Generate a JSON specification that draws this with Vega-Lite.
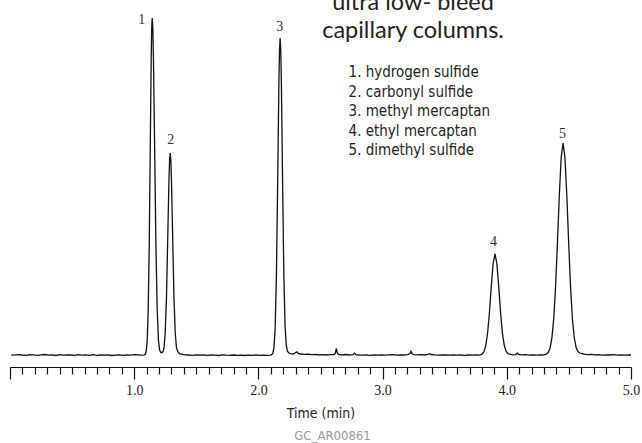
{
  "$schema": "https://vega.github.io/schema/vega-lite/v6.json",
  "width": 621,
  "height": 367,
  "autosize": {"type": "none"},
  "padding": {"left": 10, "top": 0, "right": 11, "bottom": 76},
  "background": "white",
  "config": {"view": {"stroke": null}},
  "title": {"text": "GC_AR00861", "orient": "bottom", "anchor": "middle", "dx": 12, "offset": 10, "font": "DejaVu Sans Condensed, Roboto Condensed, Roboto", "fontSize": 13, "fontWeight": "normal", "color": "#9a9a9a"},
  "datasets": {
    "signal": [
      {"t": 0.01, "s": 12.2}, {"t": 0.04, "s": 11.8}, {"t": 0.07, "s": 12.4}, {"t": 0.10, "s": 12.0}, {"t": 0.13, "s": 11.7},
      {"t": 0.16, "s": 12.3}, {"t": 0.19, "s": 12.1}, {"t": 0.22, "s": 11.6}, {"t": 0.25, "s": 12.2}, {"t": 0.28, "s": 12.5},
      {"t": 0.31, "s": 11.9}, {"t": 0.34, "s": 12.1}, {"t": 0.37, "s": 11.5}, {"t": 0.40, "s": 12.3}, {"t": 0.43, "s": 11.8},
      {"t": 0.46, "s": 12.2}, {"t": 0.49, "s": 12.0}, {"t": 0.52, "s": 11.6}, {"t": 0.55, "s": 12.4}, {"t": 0.58, "s": 11.9},
      {"t": 0.61, "s": 12.1}, {"t": 0.64, "s": 11.7}, {"t": 0.67, "s": 12.3}, {"t": 0.70, "s": 11.6}, {"t": 0.73, "s": 12.0},
      {"t": 0.76, "s": 11.8}, {"t": 0.79, "s": 12.2}, {"t": 0.82, "s": 11.5}, {"t": 0.85, "s": 11.9}, {"t": 0.88, "s": 12.1},
      {"t": 0.91, "s": 11.7}, {"t": 0.94, "s": 12.0}, {"t": 0.97, "s": 11.8}, {"t": 1.00, "s": 12.3}, {"t": 1.03, "s": 12.1},
      {"t": 1.06, "s": 11.9}, {"t": 1.08, "s": 12.2},
      {"t": 1.089, "s": 12.5}, {"t": 1.097, "s": 16}, {"t": 1.105, "s": 27}, {"t": 1.113, "s": 58}, {"t": 1.121, "s": 121},
      {"t": 1.129, "s": 216}, {"t": 1.137, "s": 309}, {"t": 1.141, "s": 339}, {"t": 1.145, "s": 349}, {"t": 1.150, "s": 339},
      {"t": 1.155, "s": 309}, {"t": 1.165, "s": 216}, {"t": 1.175, "s": 121}, {"t": 1.185, "s": 58}, {"t": 1.195, "s": 27},
      {"t": 1.205, "s": 17}, {"t": 1.215, "s": 14.5}, {"t": 1.225, "s": 14.5}, {"t": 1.233, "s": 15.5}, {"t": 1.24, "s": 19},
      {"t": 1.25, "s": 35}, {"t": 1.26, "s": 70}, {"t": 1.27, "s": 128}, {"t": 1.28, "s": 188}, {"t": 1.285, "s": 207},
      {"t": 1.29, "s": 214}, {"t": 1.295, "s": 207}, {"t": 1.30, "s": 188}, {"t": 1.31, "s": 128}, {"t": 1.32, "s": 70},
      {"t": 1.33, "s": 35}, {"t": 1.34, "s": 19.5}, {"t": 1.35, "s": 15.5}, {"t": 1.36, "s": 14}, {"t": 1.37, "s": 13.2},
      {"t": 1.39, "s": 12.6}, {"t": 1.41, "s": 12.2},
      {"t": 1.44, "s": 12.0}, {"t": 1.47, "s": 11.7}, {"t": 1.50, "s": 12.1}, {"t": 1.53, "s": 11.8}, {"t": 1.56, "s": 12.2},
      {"t": 1.59, "s": 11.6}, {"t": 1.62, "s": 12.0}, {"t": 1.65, "s": 11.9}, {"t": 1.68, "s": 11.5}, {"t": 1.71, "s": 12.1},
      {"t": 1.74, "s": 11.8}, {"t": 1.77, "s": 11.6}, {"t": 1.80, "s": 12.0}, {"t": 1.83, "s": 11.7}, {"t": 1.86, "s": 11.9},
      {"t": 1.89, "s": 11.5}, {"t": 1.92, "s": 11.8}, {"t": 1.95, "s": 11.6}, {"t": 1.98, "s": 12.0}, {"t": 2.01, "s": 11.7},
      {"t": 2.04, "s": 11.9}, {"t": 2.07, "s": 11.6}, {"t": 2.10, "s": 11.9},
      {"t": 2.115, "s": 13.2}, {"t": 2.125, "s": 19}, {"t": 2.135, "s": 39}, {"t": 2.145, "s": 91}, {"t": 2.155, "s": 183},
      {"t": 2.165, "s": 284}, {"t": 2.170, "s": 317}, {"t": 2.175, "s": 329}, {"t": 2.180, "s": 317}, {"t": 2.185, "s": 284},
      {"t": 2.195, "s": 183}, {"t": 2.205, "s": 91}, {"t": 2.215, "s": 40}, {"t": 2.225, "s": 21}, {"t": 2.235, "s": 15.5},
      {"t": 2.245, "s": 14}, {"t": 2.26, "s": 13.3}, {"t": 2.28, "s": 13}, {"t": 2.30, "s": 14.5}, {"t": 2.31, "s": 15.2},
      {"t": 2.32, "s": 13.6}, {"t": 2.34, "s": 13.0}, {"t": 2.37, "s": 12.6}, {"t": 2.40, "s": 12.8}, {"t": 2.43, "s": 12.3},
      {"t": 2.46, "s": 12.5}, {"t": 2.49, "s": 12.1}, {"t": 2.52, "s": 12.4}, {"t": 2.55, "s": 12.0}, {"t": 2.58, "s": 12.3},
      {"t": 2.61, "s": 12.5}, {"t": 2.62, "s": 14}, {"t": 2.627, "s": 18.5}, {"t": 2.635, "s": 14}, {"t": 2.645, "s": 12.6},
      {"t": 2.67, "s": 12.2}, {"t": 2.70, "s": 12.5}, {"t": 2.73, "s": 12.0}, {"t": 2.76, "s": 12.3}, {"t": 2.775, "s": 13.8},
      {"t": 2.785, "s": 12.4}, {"t": 2.81, "s": 12.0}, {"t": 2.84, "s": 11.8}, {"t": 2.87, "s": 12.1}, {"t": 2.90, "s": 11.7},
      {"t": 2.93, "s": 12.0}, {"t": 2.96, "s": 11.9}, {"t": 2.99, "s": 12.2}, {"t": 3.02, "s": 11.8}, {"t": 3.05, "s": 12.1},
      {"t": 3.08, "s": 12.3}, {"t": 3.11, "s": 11.9}, {"t": 3.14, "s": 12.2}, {"t": 3.17, "s": 12.0}, {"t": 3.20, "s": 12.3},
      {"t": 3.22, "s": 13.5}, {"t": 3.228, "s": 15.7}, {"t": 3.236, "s": 13.2}, {"t": 3.25, "s": 12.4}, {"t": 3.28, "s": 12.1},
      {"t": 3.31, "s": 12.3}, {"t": 3.34, "s": 12.0}, {"t": 3.37, "s": 12.8}, {"t": 3.38, "s": 13.3}, {"t": 3.39, "s": 12.5},
      {"t": 3.42, "s": 12.1}, {"t": 3.45, "s": 11.8}, {"t": 3.48, "s": 12.0}, {"t": 3.51, "s": 12.2}, {"t": 3.54, "s": 11.9},
      {"t": 3.57, "s": 12.1}, {"t": 3.60, "s": 11.8}, {"t": 3.63, "s": 12.0}, {"t": 3.66, "s": 11.7}, {"t": 3.69, "s": 12.0},
      {"t": 3.72, "s": 11.8}, {"t": 3.75, "s": 12.1}, {"t": 3.78, "s": 11.9},
      {"t": 3.80, "s": 12.9}, {"t": 3.815, "s": 15}, {"t": 3.83, "s": 20.9}, {"t": 3.845, "s": 33.3}, {"t": 3.86, "s": 54},
      {"t": 3.875, "s": 80.5}, {"t": 3.89, "s": 103.6}, {"t": 3.905, "s": 113}, {"t": 3.92, "s": 103.6}, {"t": 3.935, "s": 80.5},
      {"t": 3.95, "s": 54}, {"t": 3.965, "s": 33.3}, {"t": 3.98, "s": 21.5}, {"t": 3.995, "s": 15.5}, {"t": 4.01, "s": 13.3},
      {"t": 4.03, "s": 12.6}, {"t": 4.05, "s": 12.2}, {"t": 4.07, "s": 12.4}, {"t": 4.085, "s": 13.8}, {"t": 4.095, "s": 12.5},
      {"t": 4.12, "s": 12.1}, {"t": 4.15, "s": 12.3}, {"t": 4.18, "s": 11.9}, {"t": 4.21, "s": 12.1}, {"t": 4.24, "s": 11.8},
      {"t": 4.27, "s": 12.0}, {"t": 4.30, "s": 12.2},
      {"t": 4.318, "s": 12.8}, {"t": 4.333, "s": 14.4}, {"t": 4.348, "s": 18.8}, {"t": 4.363, "s": 28.9}, {"t": 4.378, "s": 48.5},
      {"t": 4.393, "s": 80.9}, {"t": 4.408, "s": 124.6}, {"t": 4.423, "s": 172}, {"t": 4.438, "s": 209.6}, {"t": 4.453, "s": 224},
      {"t": 4.468, "s": 209.6}, {"t": 4.483, "s": 172}, {"t": 4.498, "s": 124.6}, {"t": 4.513, "s": 80.9}, {"t": 4.528, "s": 48.5},
      {"t": 4.543, "s": 29.5}, {"t": 4.558, "s": 19.5}, {"t": 4.573, "s": 15.5}, {"t": 4.588, "s": 14}, {"t": 4.60, "s": 13.5},
      {"t": 4.62, "s": 12.8}, {"t": 4.65, "s": 12.4}, {"t": 4.68, "s": 12.6}, {"t": 4.71, "s": 12.1}, {"t": 4.74, "s": 12.3},
      {"t": 4.77, "s": 11.9}, {"t": 4.80, "s": 12.2}, {"t": 4.83, "s": 12.0}, {"t": 4.86, "s": 12.3}, {"t": 4.89, "s": 11.8},
      {"t": 4.92, "s": 12.1}, {"t": 4.95, "s": 11.9}, {"t": 4.98, "s": 12.2}, {"t": 5.0, "s": 12.0}
    ],
    "peaks": [
      {"t": 1.060, "s": 347, "label": "1"},
      {"t": 1.294, "s": 227.5, "label": "2"},
      {"t": 2.171, "s": 340, "label": "3"},
      {"t": 3.893, "s": 125.5, "label": "4"},
      {"t": 4.449, "s": 233.5, "label": "5"}
    ],
    "heading": [
      {"t": 3.245, "s": 357, "label": "ultra low- bleed"},
      {"t": 3.245, "s": 329, "label": "capillary columns."}
    ],
    "compounds": [
      {"t": 2.726, "s": 290, "label": "1. hydrogen sulfide"},
      {"t": 2.726, "s": 270.5, "label": "2. carbonyl sulfide"},
      {"t": 2.726, "s": 251, "label": "3. methyl mercaptan"},
      {"t": 2.726, "s": 231.5, "label": "4. ethyl mercaptan"},
      {"t": 2.726, "s": 212, "label": "5. dimethyl sulfide"}
    ]
  },
  "layer": [
    {
      "data": {"name": "signal"},
      "mark": {"type": "line", "color": "#111111", "strokeWidth": 1.3, "clip": false},
      "encoding": {
        "x": {
          "field": "t", "type": "quantitative",
          "scale": {"domain": [0, 5], "nice": false, "zero": false},
          "axis": {
            "title": "Time (min)",
            "tickCount": 100,
            "values": [0, 0.1, 0.2, 0.3, 0.4, 0.5, 0.6, 0.7, 0.8, 0.9, 1, 1.1, 1.2, 1.3, 1.4, 1.5, 1.6, 1.7, 1.8, 1.9, 2, 2.1, 2.2, 2.3, 2.4, 2.5, 2.6, 2.7, 2.8, 2.9, 3, 3.1, 3.2, 3.3, 3.4, 3.5, 3.6, 3.7, 3.8, 3.9, 4, 4.1, 4.2, 4.3, 4.4, 4.5, 4.6, 4.7, 4.8, 4.9, 5],
            "labelExpr": "datum.value >= 1 && datum.value % 1 === 0 ? format(datum.value, '.1f') : ''",
            "labelOverlap": false,
            "labelFlush": false,
            "grid": false,
            "domainColor": "#111111",
            "domainWidth": 1.2,
            "tickColor": "#111111",
            "tickWidth": 1.2,
            "tickSize": {"condition": {"test": "datum.value % 1 === 0", "value": 12}, "value": 7},
            "labelFont": "Liberation Serif",
            "labelFontSize": 14,
            "labelColor": "#222222",
            "labelPadding": 4,
            "titleFont": "DejaVu Sans Condensed, Roboto Condensed, Roboto",
            "titleFontSize": 14,
            "titleFontWeight": "normal",
            "titleColor": "#222222",
            "titlePadding": 9
          }
        },
        "y": {
          "field": "s", "type": "quantitative",
          "scale": {"domain": [0, 367], "nice": false, "zero": false},
          "axis": null
        }
      }
    },
    {
      "data": {"name": "peaks"},
      "mark": {"type": "text", "font": "Liberation Serif", "fontSize": 14, "fill": "#333333", "align": "center", "baseline": "middle"},
      "encoding": {
        "x": {"field": "t", "type": "quantitative"},
        "y": {"field": "s", "type": "quantitative"},
        "text": {"field": "label"}
      }
    },
    {
      "data": {"name": "heading"},
      "mark": {"type": "text", "font": "Lato", "fontSize": 23.5, "fill": "#231f20", "align": "center", "baseline": "alphabetic"},
      "encoding": {
        "x": {"field": "t", "type": "quantitative"},
        "y": {"field": "s", "type": "quantitative"},
        "text": {"field": "label"}
      }
    },
    {
      "data": {"name": "compounds"},
      "mark": {"type": "text", "font": "DejaVu Sans Condensed, Roboto Condensed, Roboto", "fontSize": 15, "fill": "#231f20", "align": "left", "baseline": "alphabetic"},
      "encoding": {
        "x": {"field": "t", "type": "quantitative"},
        "y": {"field": "s", "type": "quantitative"},
        "text": {"field": "label"}
      }
    }
  ]
}
